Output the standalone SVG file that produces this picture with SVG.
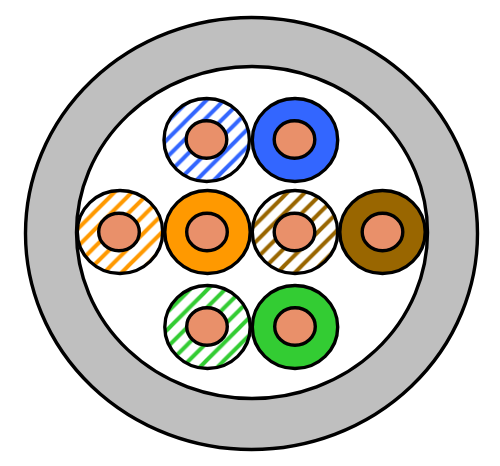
<svg xmlns="http://www.w3.org/2000/svg" width="500" height="466" viewBox="0 0 500 466">
  <style>
    .line { stroke: #000; stroke-width: 3.4; }
    .sheath { fill: #bfbfbf; }
    .cavity { fill: #fff; }
    .core { fill: #e9906a; }
  </style>
  <defs>
    <pattern id="stripe-blue" patternUnits="userSpaceOnUse" width="17.5" height="17.5" patternTransform="translate(201.700 140)">
      <rect width="17.500" height="17.500" fill="#fff"/>
      <path d="M-4 4L4 -4M-4 21.500L21.500 -4M13.500 21.500L21.500 13.500" stroke="#3366ff" stroke-width="4" fill="none"/>
    </pattern>
    <pattern id="stripe-orange" patternUnits="userSpaceOnUse" width="17.5" height="17.5" patternTransform="translate(127.200 232)">
      <rect width="17.500" height="17.500" fill="#fff"/>
      <path d="M-4 4L4 -4M-4 21.500L21.500 -4M13.500 21.500L21.500 13.500" stroke="#ff9900" stroke-width="4" fill="none"/>
    </pattern>
    <pattern id="stripe-brown" patternUnits="userSpaceOnUse" width="17.5" height="17.5" patternTransform="translate(300.500 232)">
      <rect width="17.500" height="17.500" fill="#fff"/>
      <path d="M-4 4L4 -4M-4 21.500L21.500 -4M13.500 21.500L21.500 13.500" stroke="#996600" stroke-width="4" fill="none"/>
    </pattern>
    <pattern id="stripe-green" patternUnits="userSpaceOnUse" width="17.5" height="17.5" patternTransform="translate(205 327)">
      <rect width="17.500" height="17.500" fill="#fff"/>
      <path d="M-4 4L4 -4M-4 21.500L21.500 -4M13.500 21.500L21.500 13.500" stroke="#33cc33" stroke-width="4" fill="none"/>
    </pattern>
  </defs>

  <g id="jacket">
    <ellipse class="sheath line" cx="251.500" cy="233.500" rx="226" ry="216"/>
    <ellipse class="cavity line" cx="252" cy="232.500" rx="175.500" ry="166"/>
  </g>

  <g id="pair-blue-striped">
    <ellipse class="line" fill="url(#stripe-blue)" cx="206.700" cy="140" rx="42.700" ry="41.500"/>
    <ellipse class="core line" cx="206.500" cy="139.500" rx="20.300" ry="18.800"/>
  </g>
  <g id="pair-blue">
    <ellipse class="line" fill="#3366ff" cx="295" cy="140" rx="42.700" ry="41.500"/>
    <ellipse class="core line" cx="294.500" cy="139.500" rx="20.300" ry="18.800"/>
  </g>
  <g id="pair-orange-striped">
    <ellipse class="line" fill="url(#stripe-orange)" cx="120" cy="232" rx="42.700" ry="41.500"/>
    <ellipse class="core line" cx="119" cy="232" rx="20.300" ry="18.800"/>
  </g>
  <g id="pair-orange">
    <ellipse class="line" fill="#ff9900" cx="207.500" cy="232" rx="42.700" ry="41.500"/>
    <ellipse class="core line" cx="207" cy="232" rx="20.300" ry="18.800"/>
  </g>
  <g id="pair-brown-striped">
    <ellipse class="line" fill="url(#stripe-brown)" cx="295" cy="232" rx="42.700" ry="41.500"/>
    <ellipse class="core line" cx="294.500" cy="232" rx="20.300" ry="18.800"/>
  </g>
  <g id="pair-brown">
    <ellipse class="line" fill="#996600" cx="382.500" cy="232" rx="42.700" ry="41.500"/>
    <ellipse class="core line" cx="382.500" cy="232" rx="20.300" ry="18.800"/>
  </g>
  <g id="pair-green-striped">
    <ellipse class="line" fill="url(#stripe-green)" cx="207.500" cy="327" rx="42.700" ry="41.500"/>
    <ellipse class="core line" cx="207" cy="326.500" rx="20.300" ry="18.800"/>
  </g>
  <g id="pair-green">
    <ellipse class="line" fill="#33cc33" cx="295" cy="327" rx="42.700" ry="41.500"/>
    <ellipse class="core line" cx="295" cy="326.500" rx="20.300" ry="18.800"/>
  </g>
</svg>
